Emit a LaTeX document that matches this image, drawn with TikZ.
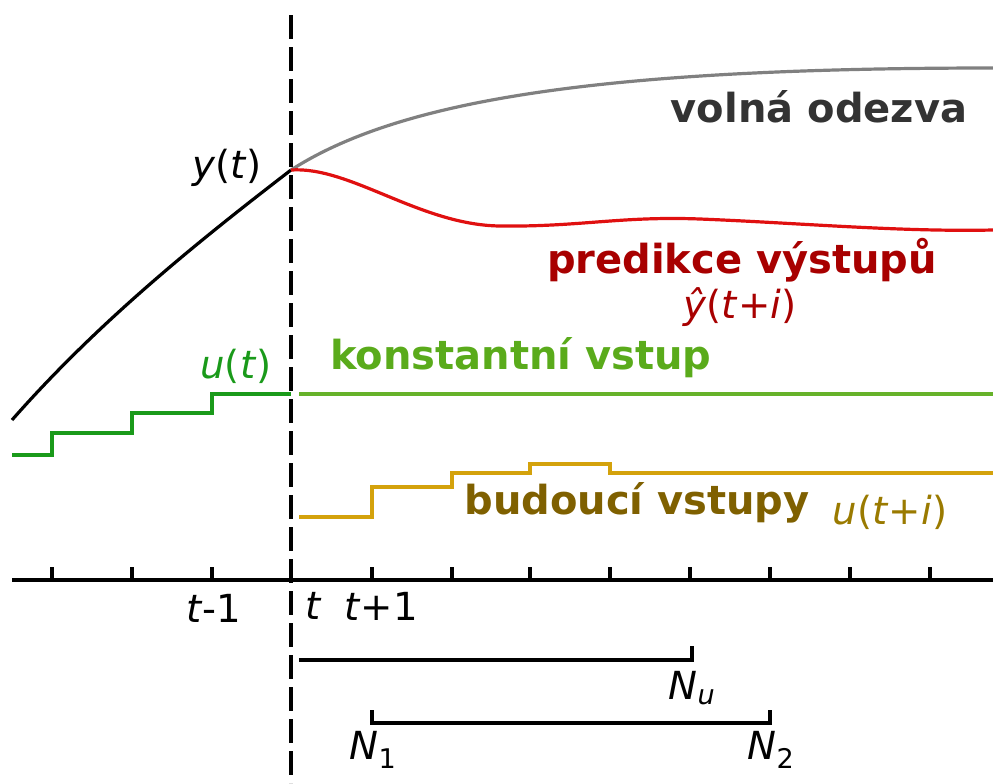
\documentclass[tikz,border=0pt]{standalone}
\usepackage{fontspec}
\setmainfont{DejaVu Sans}[ItalicFont={DejaVu Sans Oblique},BoldFont={DejaVu Sans Bold}]
\definecolor{greycurve}{HTML}{808080}
\definecolor{greytext}{HTML}{333333}
\definecolor{redcurve}{HTML}{E01010}
\definecolor{redtext}{HTML}{A80000}
\definecolor{stepgreen}{HTML}{1A9A1A}
\definecolor{lightgreen}{HTML}{66B22A}
\definecolor{lgtext}{HTML}{5AAB1B}
\definecolor{gold}{HTML}{D4A20C}
\definecolor{olive}{HTML}{7F6000}
\definecolor{olive2}{HTML}{9A7A00}
\tikzset{
  curve/.style={line width=2.4pt},
  stepline/.style={line width=2.9pt},
  axisline/.style={line width=2.9pt},
  bar/.style={line width=2.9pt},
  lbl/.style={inner sep=0pt,font=\fontsize{29}{34}\selectfont},
  blbl/.style={inner sep=0pt,font=\fontsize{30}{36}\selectfont\bfseries},
}
\begin{document}
\begin{tikzpicture}[x=0.75pt,y=-0.75pt]
\useasboundingbox (0,0) rectangle (993,783);
% coordinates
\coordinate (y0) at (12,420);
\coordinate (yt) at (291,170);
\coordinate (gend) at (993,68);
\coordinate (rend) at (993,230);
% curves
\draw[curve] (y0) .. controls (100,320) and (200,240) .. (yt);
\draw[curve,greycurve] (yt) .. controls (400,100) and (600,68) .. (gend);
\draw[curve,redcurve] (yt) .. controls (350,166) and (420,225) .. (500,226)
  .. controls (580,227) and (620,216) .. (700,219)
  .. controls (800,223) and (900,232) .. (rend);
% past inputs
\draw[stepline,stepgreen] (12,455) -| (52,433) -| (132,413) -| (212,394) -- (291,394);
% constant input
\draw[stepline,lightgreen] (299,394) -- (993,394);
% future inputs
\draw[stepline,gold] (299,517) -| (372,487) -| (452,473) -| (530,464) -| (610,473) -- (993,473);
% axis
\draw[axisline] (12,580) -- (993,580);
\foreach \x in {52,132,212,372,452,530,610,690,770,850,930}
  \draw[axisline] (\x,580) -- (\x,567);
% dashed vertical
\draw[line width=3.4pt,dash pattern=on 18pt off 6pt] (291,15) -- (291,783);
% horizons
\draw[bar] (299,660) -- (692,660) -- (692,646);
\draw[bar] (372,710) -- (372,723) -- (770,723) -- (770,710);
% labels
\node[blbl,text=greytext] (free) at (819,107) {volná odezva};
\node[blbl,text=redtext] (pred) at (742,260) {predikce výstupů};
\node[lbl,text=redtext] (yhat) at (740,307) {\textit{ŷ}(\textit{t}+\textit{i})};
\node[blbl,text=lgtext] (const) at (521,358) {konstantní vstup};
\node[lbl,text=stepgreen] (ut) at (236,366) {\textit{u}(\textit{t})};
\node[lbl] (ylab) at (227,168) {\textit{y}(\textit{t})};
\node[blbl,text=olive] (fut) at (637,503) {budoucí vstupy};
\node[lbl,text=olive2] (utin) at (890,512) {\textit{u}(\textit{t}+\textit{i})};
\node[lbl] (tm1) at (214,608) {\textit{t}-1};
\node[lbl] (t0) at (314,606) {\textit{t}};
\node[lbl] (tp1) at (381,606) {\textit{t}+1};
\node[lbl] (nu) at (692,688) {\textit{N}\textsubscript{\textit{u}}};
\node[lbl] (n1) at (373,750) {\textit{N}\textsubscript{1}};
\node[lbl] (n2) at (771,750) {\textit{N}\textsubscript{2}};
\end{tikzpicture}
\end{document}
